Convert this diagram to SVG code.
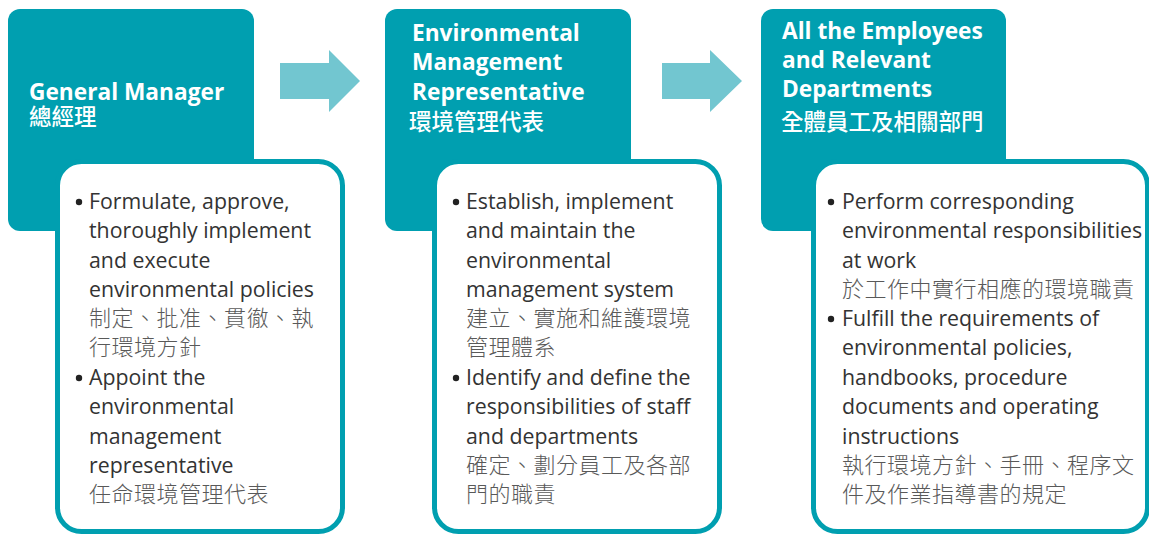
<svg xmlns="http://www.w3.org/2000/svg" width="1149" height="535" viewBox="0 0 1149 535">
<style>
.head{fill:#009fb0;}
.card{fill:#ffffff;stroke:#009fb0;stroke-width:5;}
.arrow{fill:#72c6d0;}
.ht{font-family:"Open Sans","Noto Sans",sans-serif;font-weight:700;font-size:22.7px;fill:#ffffff;}
.hc{font-family:"Noto Sans CJK TC","Noto Sans CJK SC",sans-serif;font-weight:500;font-size:22.5px;fill:#ffffff;}
.bt{font-family:"Open Sans","Noto Sans",sans-serif;font-size:21.3px;fill:#333333;}
.bc{font-family:"Noto Sans CJK TC","Noto Sans CJK SC",sans-serif;font-weight:300;font-size:22px;letter-spacing:0.5px;fill:#595959;}
.dot{fill:#222222;}
</style>
<g id="connectors">
<polygon class="arrow" points="280,63 329,63 329,50 360,81 329,112 329,99 280,99"/>
<polygon class="arrow" points="662,63 710,63 710,50 742,81 710,112 710,99 662,99"/>
</g>
<g id="node-general-manager">
<rect class="head" x="8" y="9" width="246" height="222" rx="12"/>
<text class="ht" x="29" y="100">General Manager</text>
<text class="hc" x="29" y="125">總經理</text>
<rect class="card" x="57.5" y="161.5" width="285" height="370" rx="24"/>
<circle class="dot" cx="79" cy="202" r="3.2"/>
<circle class="dot" cx="79" cy="378" r="3.2"/>
<text class="bt" x="89" y="209">Formulate, approve,</text>
<text class="bt" x="89" y="238">thoroughly implement</text>
<text class="bt" x="89" y="268">and execute</text>
<text class="bt" x="89" y="297">environmental policies</text>
<text class="bc" x="89" y="326">制定、批准、貫徹、執</text>
<text class="bc" x="89" y="355">行環境方針</text>
<text class="bt" x="89" y="385">Appoint the</text>
<text class="bt" x="89" y="414">environmental</text>
<text class="bt" x="89" y="444">management</text>
<text class="bt" x="89" y="473">representative</text>
<text class="bc" x="89" y="502">任命環境管理代表</text>
</g>
<g id="node-env-rep">
<rect class="head" x="385" y="9" width="246" height="222" rx="12"/>
<text class="ht" x="412" y="41">Environmental</text>
<text class="ht" x="412" y="70">Management</text>
<text class="ht" x="412" y="100">Representative</text>
<text class="hc" x="409" y="130">環境管理代表</text>
<rect class="card" x="434.5" y="161.5" width="285" height="370" rx="24"/>
<circle class="dot" cx="456" cy="202" r="3.2"/>
<circle class="dot" cx="456" cy="378" r="3.2"/>
<text class="bt" x="466" y="209">Establish, implement</text>
<text class="bt" x="466" y="238">and maintain the</text>
<text class="bt" x="466" y="268">environmental</text>
<text class="bt" x="466" y="297">management system</text>
<text class="bc" x="466" y="326">建立、實施和維護環境</text>
<text class="bc" x="466" y="355">管理體系</text>
<text class="bt" x="466" y="385">Identify and define the</text>
<text class="bt" x="466" y="414">responsibilities of staff</text>
<text class="bt" x="466" y="444">and departments</text>
<text class="bc" x="466" y="473">確定、劃分員工及各部</text>
<text class="bc" x="466" y="502">門的職責</text>
</g>
<g id="node-employees">
<rect class="head" x="761" y="9" width="245" height="222" rx="12"/>
<text class="ht" x="782" y="39">All the Employees</text>
<text class="ht" x="782" y="68">and Relevant</text>
<text class="ht" x="782" y="97">Departments</text>
<text class="hc" x="781" y="130">全體員工及相關部門</text>
<rect class="card" x="813.5" y="161.5" width="334" height="370" rx="24"/>
<circle class="dot" cx="831" cy="202" r="3.2"/>
<circle class="dot" cx="831" cy="319" r="3.2"/>
<text class="bt" x="842" y="209">Perform corresponding</text>
<text class="bt" x="842" y="238">environmental responsibilities</text>
<text class="bt" x="842" y="268">at work</text>
<text class="bc" x="842" y="297">於工作中實行相應的環境職責</text>
<text class="bt" x="842" y="326">Fulfill the requirements of</text>
<text class="bt" x="842" y="355">environmental policies,</text>
<text class="bt" x="842" y="385">handbooks, procedure</text>
<text class="bt" x="842" y="414">documents and operating</text>
<text class="bt" x="842" y="444">instructions</text>
<text class="bc" x="842" y="473">執行環境方針、手冊、程序文</text>
<text class="bc" x="842" y="502">件及作業指導書的規定</text>
</g>
</svg>
